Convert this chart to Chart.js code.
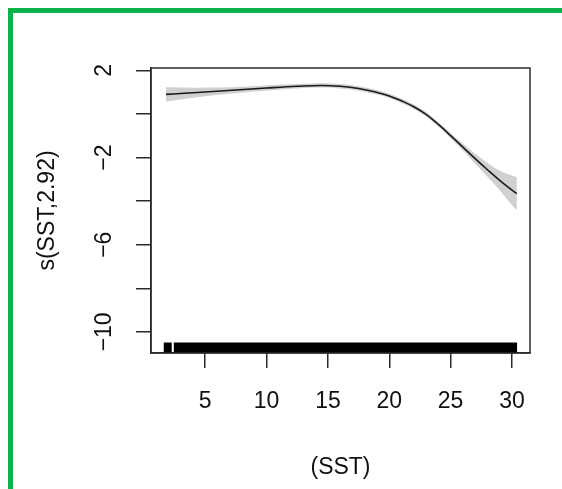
<!DOCTYPE html>
<html>
<head>
<meta charset="utf-8">
<script src="https://cdn.jsdelivr.net/npm/chart.js"></script>
<style>
  body { margin: 0; background: #fff; }
  #wrap { position: relative; width: 562px; height: 489px; overflow: hidden; }
  #frame { position: absolute; left: 8px; top: 8px; width: 600px; height: 600px;
           border-left: 5px solid #0cb14b; border-top: 5px solid #0cb14b; }
  canvas { position: absolute; left: 0; top: 0; }
</style>
</head>
<body>
<div id="wrap">
  <canvas id="gamChart" width="562" height="489"></canvas>
  <div id="frame"></div>
</div>
<script>
// smooth term s(SST)
const sst = [1.8, 3, 5, 7.5, 10, 12.5, 14.5, 16, 17.5, 19, 20, 21, 22, 23, 24, 25, 26, 27, 28, 29, 30, 30.4];
const fit = [0.90, 0.94, 1.01, 1.10, 1.19, 1.27, 1.31, 1.27, 1.17, 0.99, 0.83, 0.60, 0.33, -0.02, -0.48, -0.99, -1.52, -2.05, -2.56, -3.05, -3.50, -3.66];
const se  = [0.33, 0.28, 0.20, 0.14, 0.12, 0.10, 0.10, 0.10, 0.10, 0.10, 0.10, 0.10, 0.10, 0.10, 0.10, 0.12, 0.16, 0.23, 0.32, 0.45, 0.68, 0.76];

// rug of observed SST values (solid runs)
const rugFrom = [1.6, 2.42];
const rugTo   = [2.28, 30.43];
const rugTop  = -10.49;

const xTicks = [5, 10, 15, 20, 25, 30];
const yTicks = [-10, -8, -6, -4, -2, 0, 2];
const yTickLabels = ['\u221210', '', '\u22126', '', '\u22122', '', '2'];

const ink = '#2b2b2b';
const font = 'Liberation Sans, Arial, sans-serif';

function renderGamChart() {
  const upper = sst.map((x, i) => ({ x: x, y: fit[i] + se[i] }));
  const lower = sst.map((x, i) => ({ x: x, y: fit[i] - se[i] }));
  const curve = sst.map((x, i) => ({ x: x, y: fit[i] }));

  const rug = [];
  rugFrom.forEach((a, i) => {
    if (i > 0) rug.push({ x: (rugTo[i - 1] + a) / 2, y: null });
    rug.push({ x: a, y: rugTop });
    rug.push({ x: rugTo[i], y: rugTop });
  });

  // R style box around the plot region
  const boxPlugin = {
    id: 'box',
    afterDraw(chart) {
      const a = chart.chartArea;
      const ctx = chart.ctx;
      ctx.save();
      ctx.strokeStyle = ink;
      ctx.lineWidth = 1.5;
      ctx.strokeRect(a.left, a.top, a.right - a.left, a.bottom - a.top);
      ctx.restore();
    }
  };

  new Chart(document.getElementById('gamChart'), {
    type: 'line',
    data: {
      datasets: [
        { data: upper, borderWidth: 0, pointRadius: 0, fill: '+1', backgroundColor: '#d0d0d0',
          tension: 0.4, order: 3 },
        { data: lower, borderWidth: 0, pointRadius: 0, fill: false,
          tension: 0.4, order: 3 },
        { data: curve, borderColor: '#1a1a1a', borderWidth: 1.6, pointRadius: 0, fill: false,
          tension: 0.4, order: 0 },
        { data: rug, borderWidth: 0, pointRadius: 0, fill: 'start', backgroundColor: '#000',
          spanGaps: false, tension: 0, order: 1 }
      ]
    },
    options: {
      animation: false,
      responsive: false,
      events: [],
      layout: { padding: { left: 0, top: 68, right: 32, bottom: 0 } },
      plugins: { legend: { display: false }, tooltip: { enabled: false } },
      scales: {
        x: {
          type: 'linear',
          min: 0.58,
          max: 31.47,
          afterFit(scale) { scale.height = 136; },
          afterBuildTicks(scale) { scale.ticks = xTicks.map(v => ({ value: v })); },
          grid: { drawOnChartArea: false, drawTicks: true, tickLength: 15, color: ink, lineWidth: 1.5 },
          border: { display: true, color: ink, width: 1.5 },
          ticks: { color: '#111', padding: 20, font: { family: font, size: 23 }, autoSkip: false },
          title: { display: true, text: '(SST)', color: '#111', padding: { top: 0, bottom: 8 },
                   font: { family: font, size: 23 } }
        },
        y: {
          type: 'linear',
          min: -10.97,
          max: 2.11,
          afterFit(scale) { scale.width = 151; },
          afterBuildTicks(scale) { scale.ticks = yTicks.map(v => ({ value: v })); },
          grid: { drawOnChartArea: false, drawTicks: true, tickLength: 15, color: ink, lineWidth: 1.5 },
          border: { display: true, color: ink, width: 1.5 },
          ticks: {
            color: '#111', padding: 12, minRotation: 90, maxRotation: 90, crossAlign: 'center',
            autoSkip: false, font: { family: font, size: 23 },
            callback: function (value) {
              const i = yTicks.indexOf(value);
              return i >= 0 ? yTickLabels[i] : '';
            }
          },
          title: { display: true, text: 's(SST,2.92)', color: '#111', padding: { top: 34, bottom: 0 },
                   font: { family: font, size: 23 } }
        }
      }
    },
    plugins: [boxPlugin]
  });
}

renderGamChart();
</script>
</body>
</html>
